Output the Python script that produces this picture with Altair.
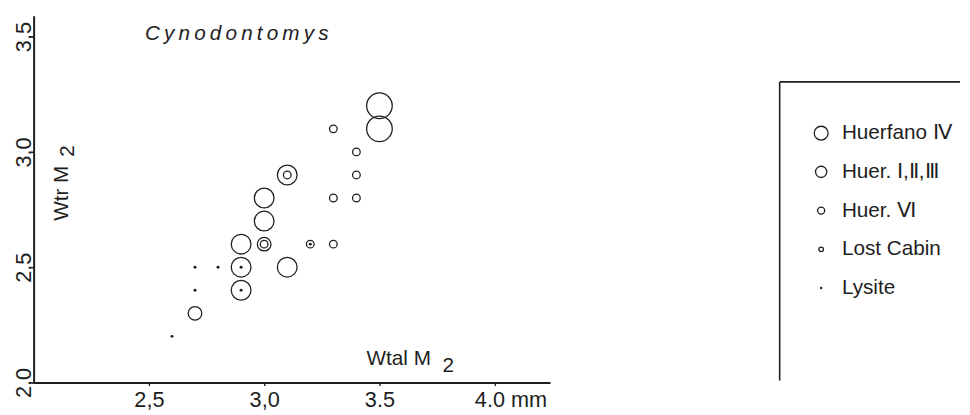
import altair as alt
import pandas as pd

# ---------------- data ----------------
groups = ["Huerfano IV", "Huer. I,II,III", "Huer. VI", "Lost Cabin", "Lysite"]
legend_labels = ["Huerfano Ⅳ", "Huer. Ⅰ,Ⅱ,Ⅲ", "Huer. Ⅵ", "Lost Cabin", "Lysite"]

hIV_x = [3.5, 3.5]
hIV_y = [3.2, 3.1]
h123_x = [3.1, 3.0, 3.0, 2.9, 2.9, 2.9, 3.1]
h123_y = [2.9, 2.8, 2.7, 2.6, 2.5, 2.4, 2.5]
hVI_x = [3.0, 2.7]
hVI_y = [2.6, 2.3]
lc_x = [3.3, 3.4, 3.4, 3.3, 3.4, 3.3, 3.2, 3.1, 3.0]
lc_y = [3.1, 3.0, 2.9, 2.8, 2.8, 2.6, 2.6, 2.9, 2.6]
ly_x = [2.6, 2.7, 2.7, 2.8, 2.9, 2.9, 3.2]
ly_y = [2.2, 2.4, 2.5, 2.5, 2.5, 2.4, 2.6]

x_ticks = [2.5, 3.0, 3.5, 4.0]
x_tick_labels = ["2,5", "3,0", "3.5", "4.0 mm"]
y_ticks = [2.0, 2.5, 3.0, 3.5]
y_tick_labels = ["2,0", "2,5", "3,0", "3,5"]

title_text = "C\u2009y\u2009n\u2009o\u2009d\u2009o\u2009n\u2009t\u2009o\u2009m\u2009y\u2009s"
x_title = ["Wtal M", "2"]
y_title = ["Wtr M", "2"]

# ---------------- styling ----------------
INK = "#1e1e1e"
FONT = "Liberation Sans"
X_DOMAIN = [2.0, 4.24]
Y_DOMAIN = [2.0, 3.59]
PLOT_SIZES = [676, 400, 190, 60, 9]      # symbol areas in the plot
LEGEND_SIZES = [196, 130, 52, 22, 6]     # symbol areas in the legend box
FILLED = [False, False, False, False, True]

series_x = [hIV_x, h123_x, hVI_x, lc_x, ly_x]
series_y = [hIV_y, h123_y, hVI_y, lc_y, ly_y]


def label_expr(vals, labels):
    expr = "''"
    for v, l in reversed(list(zip(vals, labels))):
        expr = f"datum.value == {v} ? '{l}' : ({expr})"
    return expr


xenc = alt.X(
    "x:Q",
    scale=alt.Scale(domain=X_DOMAIN, nice=False, zero=False),
    axis=alt.Axis(
        values=x_ticks, labelExpr=label_expr(x_ticks, x_tick_labels), title=None,
        ticks=True, tickSize=3, tickWidth=1.4, tickColor=INK,
        grid=False, domainColor=INK, domainWidth=2,
        labelFont=FONT, labelFontSize=22, labelColor=INK, labelPadding=4,
        labelFlush=False,
        labelOffset={"condition": {"test": "datum.value == 4", "value": 16}, "value": 0},
    ),
)
yenc = alt.Y(
    "y:Q",
    scale=alt.Scale(domain=Y_DOMAIN, nice=False, zero=False),
    axis=alt.Axis(
        values=y_ticks, labelExpr=label_expr(y_ticks, y_tick_labels), title=None,
        ticks=True, tickSize=3, tickWidth=1.4, tickColor=INK,
        grid=False, domainColor=INK, domainWidth=2,
        labelFont=FONT, labelFontSize=22, labelColor=INK, labelPadding=0,
        labelAngle=270, labelAlign="center", labelBaseline="alphabetic",
    ),
)

layers = []
for k, (g, xs, ys) in enumerate(zip(groups, series_x, series_y)):
    d = pd.DataFrame({"x": xs, "y": ys, "group": g})
    layers.append(
        alt.Chart(d).mark_point(
            shape="circle", filled=FILLED[k], size=PLOT_SIZES[k],
            strokeWidth=1.3, color=INK, opacity=1,
        ).encode(x=xenc, y=yenc)
    )

# annotations, placed in data units
title = alt.Chart(pd.DataFrame({"t": [title_text], "x": [2.483], "y": [3.487]})).mark_text(
    align="left", baseline="alphabetic", font=FONT, fontSize=21, fontStyle="italic", color=INK
).encode(x="x:Q", y="y:Q", text="t:N")

xtitle = alt.Chart(pd.DataFrame({"t": x_title, "x": [3.444, 3.774], "y": [2.077, 2.047]})).mark_text(
    align="left", baseline="alphabetic", font=FONT, fontSize=21, color=INK
).encode(x="x:Q", y="y:Q", text="t:N")

ytitle = alt.Chart(pd.DataFrame({"t": y_title, "x": [2.150, 2.175], "y": [2.701, 2.979]})).mark_text(
    align="left", baseline="alphabetic", angle=270, font=FONT, fontSize=21, color=INK
).encode(x="x:Q", y="y:Q", text="t:N")

main = alt.layer(*layers, title, xtitle, ytitle).properties(width=524, height=372)

# ---------------- legend panel ----------------
LX = alt.Scale(domain=[0, 1])
LY = alt.Scale(domain=[-3.028, 6.438], reverse=True)

leg_layers = []
for k, g in enumerate(groups):
    d = pd.DataFrame({"i": [k], "label": [legend_labels[k]]})
    leg_layers.append(
        alt.Chart(d).mark_point(
            shape="circle", filled=FILLED[k], size=LEGEND_SIZES[k],
            strokeWidth=1.3, color=INK, opacity=1,
        ).encode(x=alt.XDatum(0.23, scale=LX, axis=None), y=alt.Y("i:Q", scale=LY, axis=None))
    )

leg_df = pd.DataFrame({"i": list(range(len(groups))), "label": legend_labels})
leg_text = alt.Chart(leg_df).mark_text(
    align="left", baseline="middle", font=FONT, fontSize=21, color=INK
).encode(x=alt.XDatum(0.345, scale=LX, axis=None), y=alt.Y("i:Q", scale=LY, axis=None),
         text="label:N")

one = alt.Data(values=[{}])
frame_top = alt.Chart(one).mark_rule(color=INK, strokeWidth=1.6).encode(
    x=alt.XDatum(0, scale=LX, axis=None), x2=alt.X2Datum(1),
    y=alt.YDatum(-1.323, scale=LY, axis=None),
)
frame_left = alt.Chart(one).mark_rule(color=INK, strokeWidth=1.6).encode(
    x=alt.XDatum(0, scale=LX, axis=None),
    y=alt.YDatum(-1.323, scale=LY, axis=None), y2=alt.Y2Datum(6.387),
)

legend = alt.layer(frame_top, frame_left, *leg_layers, leg_text).properties(width=183, height=372)

chart = alt.hconcat(main, legend, spacing=230).properties(
    padding={"left": 4, "top": 4, "right": 0, "bottom": 0},
    background="white",
).configure_view(stroke="transparent")

chart.save("out.html", embed_options={"renderer": "svg", "actions": False})
